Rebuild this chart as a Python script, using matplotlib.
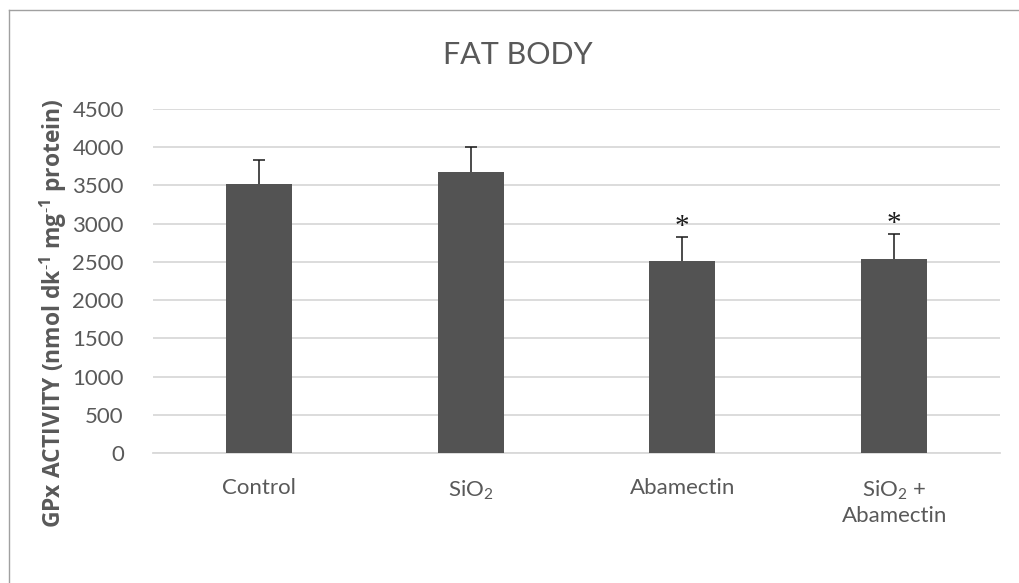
import matplotlib
matplotlib.use("Agg")
import matplotlib.pyplot as plt
from matplotlib.lines import Line2D


# data
categories = ["Control", "SiO$_{\\mathregular{2}}$", "Abamectin",
              "SiO$_{\\mathregular{2}}$ +\nAbamectin"]
means = [3520, 3680, 2510, 2540]
errors = [315, 320, 315, 320]
marks = ["", "", "*", "*"]
y_ticks = [0, 500, 1000, 1500, 2000, 2500, 3000, 3500, 4000, 4500]

BAR_COLOR = "#535353"
TEXT_COLOR = "#595959"
GRID_COLOR = "#d9d9d9"

plt.rcParams["font.family"] = ["Lato", "DejaVu Sans"]
plt.rcParams["mathtext.fontset"] = "custom"
plt.rcParams["mathtext.rm"] = "Lato"


def main():
    fig = plt.figure(figsize=(10.2, 5.83), dpi=100)
    ax = fig.add_axes([153 / 1020, 130 / 583, 847 / 1020, 344 / 583])

    x = list(range(len(categories)))

    ax.bar(
        x,
        means,
        width=0.312,
        color=BAR_COLOR,
        zorder=3
    )

    # plus-only error bars, so hide the lower cap
    _, caps, _ = ax.errorbar(
        x,
        means,
        yerr=[[0] * len(errors), errors],
        fmt="none",
        ecolor="#1a1a1a",
        elinewidth=1.1,
        capsize=4.5,
        capthick=1.1,
        zorder=4
    )
    caps[0].set_visible(False)

    for xi, m, e, s in zip(x, means, errors, marks):
        if s:
            ax.annotate(
                s,
                (xi, m + e),
                xytext=(0, -2),
                textcoords="offset points",
                ha="center",
                va="bottom",
                fontsize=21,
                family="Liberation Serif",
                color="#1a1a1a"
            )

    ax.set_xlim(-0.5, len(categories) - 0.5)
    ax.set_ylim(0, 4500)
    ax.set_yticks(y_ticks)
    ax.set_xticks(x)
    ax.set_xticklabels(categories, va="top", linespacing=1.25)

    ax.yaxis.grid(True, color=GRID_COLOR, linewidth=1.3, zorder=0)
    ax.set_axisbelow(True)

    for side in ["top", "right", "left"]:
        ax.spines[side].set_visible(False)
    ax.spines["bottom"].set_color(GRID_COLOR)
    ax.spines["bottom"].set_linewidth(1.3)

    ax.tick_params(axis="both", length=0, labelsize=16, labelcolor=TEXT_COLOR)
    ax.tick_params(axis="y", pad=21)
    ax.tick_params(axis="x", pad=18)

    fig.text(
        518 / 1020, 1 - 55 / 583,
        "FAT BODY",
        ha="center",
        va="center",
        fontsize=22,
        color=TEXT_COLOR
    )

    fig.text(
        53 / 1020, 1 - 313 / 583,
        "GPx ACTIVITY (nmol dk$^{\\mathregular{\u2010 1}}$ "
        "mg$^{\\mathregular{\u2010 1}}$ protein)",
        rotation=90,
        ha="center",
        va="center",
        fontsize=16.5,
        family=["Open Sans", "DejaVu Sans"],
        fontweight="bold",
        color=TEXT_COLOR
    )

    # chart frame (left and top edges visible in the reference)
    fig.add_artist(Line2D([9 / 1020, 9 / 1020], [0, 1 - 10 / 583],
                          transform=fig.transFigure, color="#a0a0a0", linewidth=1))
    fig.add_artist(Line2D([9 / 1020, 1], [1 - 10 / 583, 1 - 10 / 583],
                          transform=fig.transFigure, color="#a0a0a0", linewidth=1))

    fig.savefig("out.png", dpi=100)
    plt.close(fig)


if __name__ == "__main__":
    main()
